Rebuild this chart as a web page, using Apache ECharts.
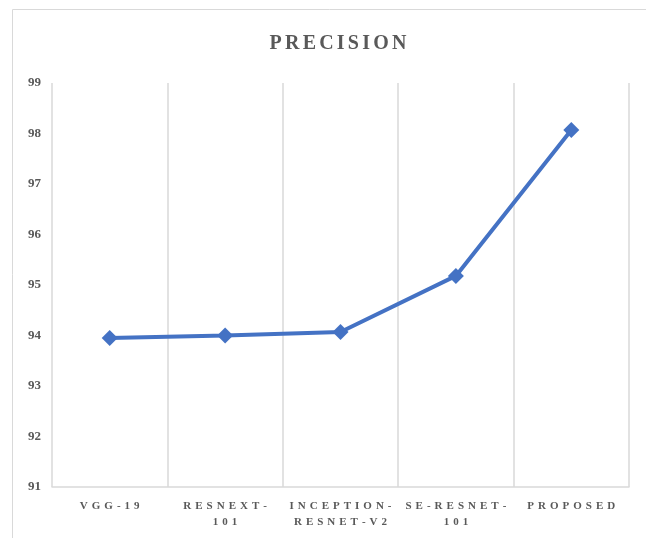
<!DOCTYPE html>
<html>
<head>
    <meta charset="utf-8">
    <script src="https://cdn.jsdelivr.net/npm/echarts@6/dist/echarts.min.js"></script>
    <style>
        html,body{margin:0;padding:0;background:#fff;}
        #main{width:646px;height:538px;}
    </style>
</head>
<body>
    <div id="main"></div>
<script type="text/javascript">
    // 数据
    var categories = ['VGG-19', 'RESNEXT-\n101', 'INCEPTION-\nRESNET-V2', 'SE-RESNET-\n101', 'PROPOSED'];
    var precision = [93.95, 94.0, 94.07, 95.18, 98.07];
    var yMin = 91, yMax = 99, yStep = 1;

    var chart = echarts.init(document.getElementById('main'));
    var textColor = '#595959';
    var serif = '"Liberation Serif", "Times New Roman", serif';

    //字间距：每个字符一个富文本片段
    function spaced(str, style) {
        return str.split('\n').map(function (line) {
            return line.split('').map(function (c) {
                return '{' + style + '|' + c + '}';
            }).join('');
        }).join('\n');
    }

    chart.setOption({
        animation: false,
        title: {
            text: spaced('PRECISION', 't'),
            left: 263,
            top: 29,
            textStyle: {
                rich: {
                    t: {
                        fontFamily: serif,
                        fontWeight: 'bold',
                        fontSize: 20,
                        color: textColor,
                        padding: [0, 1.6]
                    }
                }
            }
        },
        //外框
        graphic: [{
            type: 'rect',
            shape: {x: 12.5, y: 9.5, width: 700, height: 600},
            style: {fill: 'none', stroke: '#d9d9d9', lineWidth: 1},
            silent: true
        }],
        grid: {
            left: 52,
            right: 17,
            top: 83,
            bottom: 51,
            containLabel: false
        },
        xAxis: {
            type: 'category',
            data: categories,
            boundaryGap: true,
            axisLine: {lineStyle: {color: '#d9d9d9', width: 1.5}},
            axisTick: {show: false},
            splitLine: {show: true, lineStyle: {color: '#d9d9d9', width: 1.5}},
            axisLabel: {
                interval: 0,
                margin: 11,
                formatter: function (v) {
                    return spaced(v, 'x');
                },
                rich: {
                    x: {
                        fontFamily: serif,
                        fontWeight: 'bold',
                        fontSize: 11,
                        lineHeight: 16,
                        color: textColor,
                        padding: [0, 2]
                    }
                }
            }
        },
        yAxis: {
            type: 'value',
            min: yMin,
            max: yMax,
            interval: yStep,
            axisLine: {show: false},
            axisTick: {show: false},
            splitLine: {show: false},
            axisLabel: {
                margin: 11,
                fontFamily: serif,
                fontWeight: 'bold',
                fontSize: 13,
                color: textColor
            }
        },
        series: [{
            name: 'Precision',
            type: 'line',
            data: precision,
            symbol: 'diamond',
            symbolSize: 16,
            lineStyle: {color: '#4472c4', width: 4},
            itemStyle: {color: '#4472c4'}
        }]
    });
</script>
</body>
</html>
